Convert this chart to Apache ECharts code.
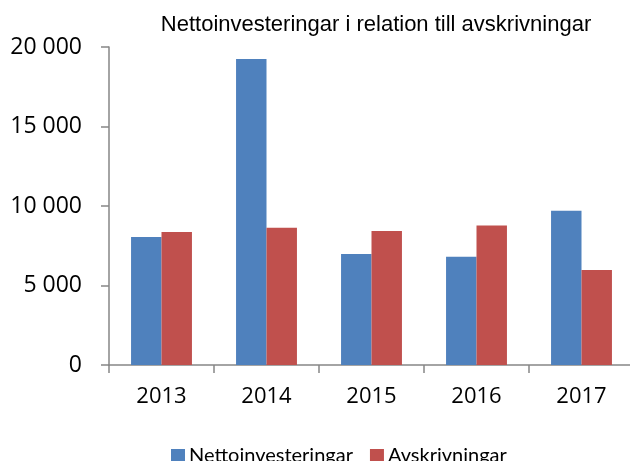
<!DOCTYPE html>
<html>
<head>
<meta charset="utf-8">
<script src="https://cdn.jsdelivr.net/npm/echarts@6/dist/echarts.min.js"></script>
<style>
  html, body { margin: 0; padding: 0; background: #fff; overflow: hidden; }
  #chart { width: 634px; height: 461px; }
</style>
</head>
<body>
<div id="chart"></div>
<script>
const years = ['2013', '2014', '2015', '2016', '2017'];
const netto = [8050, 19250, 6980, 6810, 9700];
const avskr = [8360, 8630, 8430, 8780, 5970];
const yTicks = [0, 5000, 10000, 15000, 20000];

const chart = echarts.init(document.getElementById('chart'));

// tusentalsavgränsare med mellanslag
function fmt(v) {
  return String(v).replace(/\B(?=(\d{3})+(?!\d))/g, ' ');
}

const axisColor = '#868686';

// plottytan går lite utanför högerkanten, som i originalet
chart.setOption({
  animation: false,
  color: ['#4F81BD', '#C0504D'],
  title: {
    text: 'Nettoinvesteringar i relation till avskrivningar',
    left: 371,
    textAlign: 'center',
    top: 9,
    textStyle: {
      fontFamily: 'Liberation Sans, sans-serif',
      fontSize: 22,
      fontWeight: 'normal',
      color: '#000'
    }
  },
  legend: {
    left: 166,
    top: 441,
    itemWidth: 14,
    itemHeight: 14,
    itemGap: 17,
    icon: 'rect',
    textStyle: { fontFamily: 'Lato', fontSize: 20, color: '#000', padding: [0, 0, 0, -1] },
    data: ['Nettoinvesteringar', 'Avskrivningar']
  },
  grid: { left: 109, right: 0, top: 47, bottom: 96 },
  xAxis: {
    type: 'category',
    data: years,
    axisLine: { lineStyle: { color: axisColor, width: 1.5 } },
    axisTick: { show: true, length: 8, lineStyle: { color: axisColor, width: 1.5 } },
    axisLabel: { margin: 21, fontFamily: 'Open Sans', fontSize: 22, color: '#000' }
  },
  yAxis: {
    type: 'value',
    min: 0,
    max: 20000,
    interval: 5000,
    splitLine: { show: false },
    axisLine: { show: true, lineStyle: { color: axisColor, width: 1.5 } },
    axisTick: { show: true, length: 8, lineStyle: { color: axisColor, width: 1.5 } },
    axisLabel: {
      margin: 27,
      fontFamily: 'Open Sans',
      fontSize: 23,
      color: '#000',
      formatter: v => yTicks.includes(v) ? fmt(v) : ''
    }
  },
  series: [
    { name: 'Nettoinvesteringar', type: 'bar', data: netto, barGap: '0%', barCategoryGap: '42%' },
    { name: 'Avskrivningar', type: 'bar', data: avskr, barGap: '0%', barCategoryGap: '42%' }
  ]
});
</script>
</body>
</html>
